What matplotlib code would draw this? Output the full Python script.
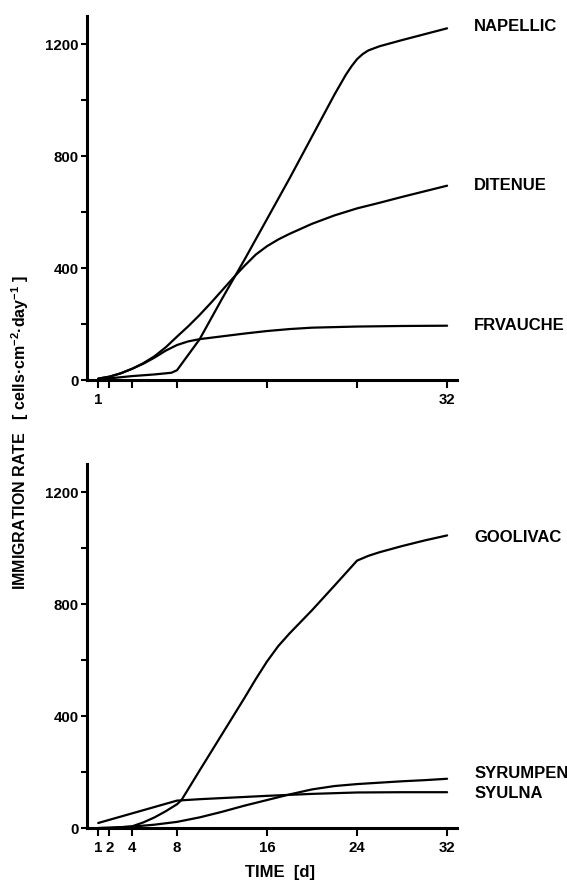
import matplotlib
matplotlib.use('Agg')
import matplotlib.pyplot as plt
from matplotlib.ticker import MultipleLocator

plt.rcParams['font.family'] = ['Liberation Sans', 'DejaVu Sans']
plt.rcParams['font.weight'] = 'bold'
plt.rcParams['mathtext.fontset'] = 'custom'
plt.rcParams['mathtext.rm'] = 'Liberation Sans:bold'
plt.rcParams['mathtext.default'] = 'rm'

# ---- data (time in days, rate in cells/cm2/day) ----
nap_t = [1, 2, 4, 6, 7.5, 8, 9, 10, 12, 14, 16, 18, 20, 22, 23, 23.5, 24, 24.5, 25, 26, 28, 30, 32]
nap_v = [3, 6, 14, 20, 26, 35, 90, 145, 290, 430, 575, 720, 870, 1020, 1090, 1120, 1146, 1164, 1177, 1192, 1214, 1235, 1256]

dit_t = [1, 2, 3, 4, 5, 6, 7, 8, 9, 10, 11, 12, 13, 14, 15, 16, 17, 18, 20, 22, 24, 26, 28, 30, 32]
dit_v = [5, 12, 24, 40, 60, 85, 117, 155, 192, 232, 275, 320, 365, 408, 448, 478, 502, 522, 558, 588, 613, 633, 654, 674, 694]

frv_t = [1, 2, 3, 4, 5, 6, 7, 8, 9, 10, 12, 14, 16, 18, 20, 24, 28, 32]
frv_v = [5, 12, 24, 40, 58, 80, 105, 125, 138, 146, 156, 166, 175, 182, 187, 191, 193, 194]

goo_t = [1, 2, 3, 4, 5, 6, 7, 8, 8.4, 10, 12, 14, 15, 16, 17, 18, 20, 22, 24, 25, 26, 28, 30, 32]
goo_v = [0, 1, 3, 6, 20, 38, 60, 85, 100, 205, 335, 465, 532, 595, 650, 695, 778, 866, 955, 972, 985, 1007, 1027, 1045]

syr_t = [1, 2, 4, 6, 8, 10, 12, 14, 16, 18, 20, 22, 24, 26, 28, 30, 32]
syr_v = [0, 1, 5, 12, 22, 38, 58, 80, 100, 120, 138, 150, 157, 162, 167, 171, 176]

syu_t = [1, 8, 10, 12, 16, 20, 24, 28, 32]
syu_v = [18, 98, 103, 107, 115, 122, 127, 128, 128]

x_ticks = [1, 2, 4, 8, 16, 24, 32]
y_major = [0, 400, 800, 1200]

# (label, times, values, vertical nudge of the label)
top_series = [('NAPELLIC', nap_t, nap_v, 5),
              ('DITENUE', dit_t, dit_v, 0),
              ('FRVAUCHE', frv_t, frv_v, 2)]
bottom_series = [('GOOLIVAC', goo_t, goo_v, -6),
                 ('SYRUMPEN', syr_t, syr_v, 20),
                 ('SYULNA', syu_t, syu_v, -3)]

fig = plt.figure(figsize=(5.67, 8.84), dpi=100)
ax_top = fig.add_axes([0.1534, 0.5701, 0.652, 0.4118])
ax_bot = fig.add_axes([0.1534, 0.0633, 0.652, 0.4118])


def style_axes(ax, show_all_xlabels):
    ax.set_xlim(0, 32.85)
    ax.set_ylim(0, 1300)
    for side in ['top', 'right']:
        ax.spines[side].set_visible(False)
    for side in ['left', 'bottom']:
        ax.spines[side].set_linewidth(2.2)
    ax.set_xticks(x_ticks)
    if show_all_xlabels:
        ax.set_xticklabels([str(t) for t in x_ticks])
    else:
        ax.set_xticklabels([str(t) if t in (1, 32) else '' for t in x_ticks])
    ax.set_yticks(y_major)
    ax.yaxis.set_minor_locator(MultipleLocator(200))
    ax.tick_params(axis='both', which='both', direction='out', width=1.5)
    ax.tick_params(axis='x', length=6, labelsize=10.8, pad=3)
    ax.tick_params(axis='y', which='major', length=4, labelsize=10.8, pad=2)
    ax.tick_params(axis='y', which='minor', length=4)


for ax, series, full in [(ax_top, top_series, False), (ax_bot, bottom_series, True)]:
    style_axes(ax, full)
    for name, t, v, dy in series:
        ax.plot(t, v, color='black', lw=1.6, solid_capstyle='round')
        ax.text(34.4, v[-1] + dy, name, fontsize=12, fontweight='bold',
                va='center', ha='left', clip_on=False)

fig.text(20 / 567, 1 - 432 / 884,
         'IMMIGRATION RATE   [ cells·cm$^{-2}$·day$^{-1}$ ]',
         rotation=90, ha='center', va='center', fontsize=11.5, fontweight='bold')
fig.text(280 / 567, 1 - 872 / 884, 'TIME  [d]', ha='center', va='center',
         fontsize=12, fontweight='bold')

fig.savefig('out.png', dpi=100)
